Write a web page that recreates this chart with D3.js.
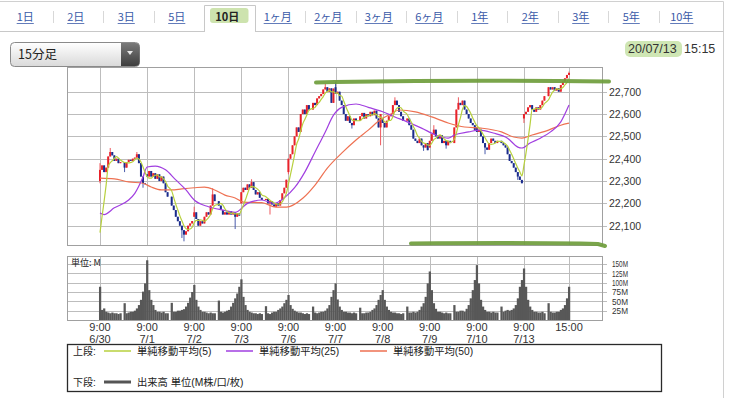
<!DOCTYPE html>
<html><head><meta charset="utf-8">
<script src="https://cdn.jsdelivr.net/npm/d3@7"></script>
<style>
body{margin:0;background:#fff;}
svg{display:block;}
text{font-family:"Liberation Sans",Arial,"Noto Sans CJK JP",sans-serif;}
.jp{font-family:"Noto Sans CJK JP","Liberation Sans",sans-serif;}
</style></head><body>
<svg id="c" width="732" height="398"></svg>
<script>
// ---------------- DATA ----------------
const tabs = ["1日","2日","3日","5日","10日","1ヶ月","2ヶ月","3ヶ月","6ヶ月","1年","2年","3年","5年","10年"];
const selectedTab = "10日";
const periodLabel = "15分足";
const stampDate = "20/07/13";
const stampTime = "15:15";
const dayLabels = ["6/30","7/1","7/2","7/3","7/6","7/7","7/8","7/9","7/10","7/13"];
const openTimeLabel = "9:00";
const closeTimeLabel = "15:00";
const priceTicks = [22100,22200,22300,22400,22500,22600,22700];
const volTicks = [25,50,75,100,125,150];
const priorCloses = [22010,22000,21990,21995];
const dayOpens = [22300,22330,22140,22200,22340,22720,22580,22450,22540,22580];
const closes = [
 [22350,22370,22340,22360,22410,22430,22415,22390,22400,22380,22385, 22360,22385,22395,22390,22400,22405,22420,22380,22320,22290,22288],
 [22320,22345,22320,22335,22310,22330,22300,22320,22290,22250,22230, 22190,22170,22140,22120,22100,22080,22060,22075,22100,22110,22121],
 [22160,22130,22100,22120,22110,22140,22160,22150,22190,22240,22210, 22190,22170,22150,22160,22150,22165,22150,22160,22140,22155,22145],
 [22250,22270,22260,22285,22270,22295,22260,22240,22250,22225,22215, 22220,22200,22210,22195,22185,22200,22190,22215,22245,22270,22306],
 [22400,22420,22460,22500,22540,22520,22600,22620,22600,22640,22620, 22650,22640,22670,22680,22690,22710,22720,22700,22715,22650,22714],
 [22690,22700,22660,22640,22600,22570,22590,22560,22550,22580,22570, 22590,22605,22580,22600,22590,22610,22595,22615,22580,22540,22600],
 [22560,22540,22570,22590,22600,22640,22660,22640,22610,22590,22570, 22580,22550,22530,22490,22480,22470,22490,22460,22450,22470,22438],
 [22480,22510,22530,22500,22490,22505,22470,22480,22460,22480,22470, 22540,22620,22650,22640,22660,22620,22600,22580,22560,22550,22529],
 [22520,22530,22500,22470,22450,22440,22470,22490,22480,22470,22480, 22470,22460,22450,22420,22390,22380,22360,22340,22320,22305,22290],
 [22600,22610,22630,22640,22620,22610,22630,22620,22640,22660,22680, 22720,22710,22720,22705,22715,22700,22730,22745,22760,22775,22784]
];
// [bar index, high, low] for visible wicks
const wicks = [
 [0,22380,22290],[5,22448,null],[11,null,22340],[17,22430,null],[20,null,22270],
 [39,null,22030],[38,null,22045],[44,22185,null],[53,22268,null],[63,null,22085],
 [71,22308,null],[79,null,22150],[88,null,22330],[105,22735,null],[110,22745,null],
 [118,null,22535],[131,null,22460],[138,22675,null],[151,null,22435],[156,22550,null],
 [162,null,22445],[167,22675,null],[180,null,22420],[195,null,22305],[198,null,22560],[219,22790,null]
];
const volumes = [
 [89,27,31,22,20,18,20,18,18,16,18, 45,18,20,22,22,25,31,40,54,76,98],
 [160,80,54,40,27,22,22,20,22,18,18, 46,22,22,25,25,27,29,36,46,60,75],
 [94,54,36,27,22,22,20,18,20,18,18, 52,22,20,22,25,27,36,46,58,71,89],
 [109,62,40,27,22,20,18,18,16,18,16, 37,18,16,20,22,22,27,31,36,45,54],
 [67,40,30,25,22,20,20,18,16,18,16, 36,20,18,20,22,22,25,31,40,62,80],
 [98,55,36,27,22,22,20,20,18,20,18, 33,18,18,20,20,22,27,31,40,54,67],
 [80,54,36,27,22,20,20,18,18,16,18, 36,20,20,22,20,22,27,36,45,62,98],
 [130,80,45,30,22,22,20,18,20,18,18, 40,22,22,25,25,22,30,40,58,80,107],
 [147,98,54,36,27,22,22,20,22,20,20, 36,22,25,27,25,27,31,40,58,89,107],
 [138,89,54,36,27,22,22,20,20,22,18, 45,22,20,20,22,22,27,31,40,58,89]
];
const ma25Bars = [0,2,7,13,16,20,22,26,31,35,40,44,51,57,63,69,76,81,86,91,96,100,105,109,113,120,125,132,138,143,150,157,163,165,172,177,184,190,195,197,201,206,210,215,219];
const ma25 = [22157,22150,22180,22215,22245,22318,22363,22367,22350,22305,22260,22215,22185,22170,22160,22200,22215,22200,22225,22270,22340,22430,22520,22595,22630,22645,22630,22610,22587,22565,22537,22506,22492,22506,22520,22528,22515,22492,22452,22448,22470,22492,22520,22565,22640];
const ma50Bars = [0,7,13,20,24,29,33,38,44,49,54,58,63,67,76,82,87,95,100,106,113,120,125,131,136,140,147,155,163,170,178,187,193,197,202,209,215,219];
const ma50 = [22313,22310,22296,22290,22273,22260,22260,22265,22270,22273,22260,22237,22224,22206,22203,22183,22183,22223,22282,22358,22425,22484,22528,22575,22600,22618,22610,22587,22560,22542,22537,22520,22497,22492,22506,22528,22550,22559];
const legendTop = ["単純移動平均(5)","単純移動平均(25)","単純移動平均(50)"];
const legendBottom = "出来高 単位(M株/口/枚)";

// ---------------- DRAW ----------------
const svg = d3.select("#c");
const BARS_PER_DAY = 22, SLOTS_PER_DAY = 23;
const slotOf = g => { const d = Math.floor(g / BARS_PER_DAY), b = g % BARS_PER_DAY; return d * SLOTS_PER_DAY + (b < 11 ? b : b + 1); };
const nDays = dayLabels.length;
const lastSlot = slotOf(nDays * BARS_PER_DAY - 1);
const x = d3.scaleLinear().domain([0, lastSlot]).range([100, 569]);
const step = x(1) - x(0);
const P = {l:67, r:602, t:67, b:245};
const V = {l:67, r:602, t:256, b:320};
const y = d3.scaleLinear().domain([22100, 22700]).range([225.7, 91.7]);
const yv = d3.scaleLinear().domain([0, 150]).range([V.b, 264]);
const px = v => Math.round(v) + 0.5;

// page chrome
svg.append("line").attr("x1",0).attr("x2",723.5).attr("y1",1.5).attr("y2",1.5).attr("stroke","#d0d0d0");
svg.append("line").attr("x1",723.5).attr("x2",723.5).attr("y1",1.5).attr("y2",398).attr("stroke","#d0d0d0");
const tabX = d3.scaleBand().domain(tabs).range([2, 709]);
const selX = tabX(selectedTab), bw = tabX.bandwidth();
svg.append("line").attr("x1",0).attr("x2",px(selX)).attr("y1",31.5).attr("y2",31.5).attr("stroke","#c8c8c8");
svg.append("line").attr("x1",px(selX+bw)).attr("x2",723.5).attr("y1",31.5).attr("y2",31.5).attr("stroke","#c8c8c8");
svg.append("path").attr("d",`M${px(selX)},32 V5.5 H${px(selX+bw)} V32`).attr("fill","#fff").attr("stroke","#c8c8c8");
svg.append("rect").attr("x",selX+6).attr("y",8).attr("width",bw-12).attr("height",15).attr("rx",3).attr("fill","#cde3ae");
tabs.forEach((t,i) => {
  const cx = tabX(t) + bw/2 - 2;
  const sel = t === selectedTab;
  const tx = svg.append("text").attr("class","jp").attr("x",cx).attr("y",21).attr("text-anchor","middle")
    .attr("font-size", 11).attr("font-weight", sel ? "bold" : "normal").attr("fill", sel ? "#222" : "#3b5aa8").text(t);
  if (!sel) {
    const w = tx.node().getComputedTextLength();
    svg.append("line").attr("x1",cx-w/2).attr("x2",cx+w/2).attr("y1",23.5).attr("y2",23.5).attr("stroke","#3b5aa8").attr("stroke-width",0.8);
  }
  const nxt = tabs[i+1];
  if (nxt && !sel && nxt !== selectedTab) {
    svg.append("line").attr("x1",px(tabX(t)+bw)).attr("x2",px(tabX(t)+bw)).attr("y1",11).attr("y2",23).attr("stroke","#d8d8d8");
  }
});

// dropdown
const defs = svg.append("defs");
const g1 = defs.append("linearGradient").attr("id","dd").attr("x1",0).attr("x2",0).attr("y1",0).attr("y2",1);
g1.append("stop").attr("offset","0%").attr("stop-color","#ffffff");
g1.append("stop").attr("offset","100%").attr("stop-color","#d9d9d9");
const g2 = defs.append("linearGradient").attr("id","db").attr("x1",0).attr("x2",0).attr("y1",0).attr("y2",1);
g2.append("stop").attr("offset","0%").attr("stop-color","#7a7a7a");
g2.append("stop").attr("offset","100%").attr("stop-color","#3e3e3e");
svg.append("rect").attr("x",10.5).attr("y",42.5).attr("width",129).attr("height",24).attr("rx",4).attr("fill","url(#dd)").attr("stroke","#8a8a8a");
svg.append("path").attr("d","M121,43 H135.5 a4,4 0 0 1 4,4 V62 a4,4 0 0 1 -4,4 H121 Z").attr("fill","url(#db)");
svg.append("path").attr("d","M127,51 L133,51 L130,55 Z").attr("fill","#e8e8e8");
svg.append("text").attr("class","jp").attr("x",18).attr("y",59).attr("font-size",12.5).attr("fill","#222").text(periodLabel);

// date stamp
svg.append("rect").attr("x",625).attr("y",41).attr("width",57).attr("height",16).attr("rx",5).attr("fill","#cfe6b4");
svg.append("text").attr("x",628).attr("y",53).attr("font-size",12.5).attr("fill","#333").text(stampDate);
svg.append("text").attr("x",684).attr("y",53).attr("font-size",12.5).attr("fill","#333").text(stampTime);

// ---- price panel ----
const gridC = "#bdbdbd";
const daySlots = d3.range(nDays).map(d => d * SLOTS_PER_DAY).concat([lastSlot]);
const pg = svg.append("g");
priceTicks.forEach(t => {
  pg.append("line").attr("x1",P.l).attr("x2",P.r+5).attr("y1",px(y(t))).attr("y2",px(y(t))).attr("stroke",gridC);
});
daySlots.forEach(s => {
  pg.append("line").attr("x1",px(x(s))).attr("x2",px(x(s))).attr("y1",P.t).attr("y2",P.b).attr("stroke",gridC);
});
pg.append("rect").attr("x",P.l+0.5).attr("y",P.t+0.5).attr("width",P.r-P.l).attr("height",P.b-P.t).attr("fill","none").attr("stroke","#a0a0a0");
const fmt = d3.format(",");
priceTicks.forEach(t => {
  pg.append("text").attr("x",609).attr("y",y(t)+3.8).attr("font-size",10.5).attr("fill","#333").text(fmt(t));
});

// candles
const flatC = closes.flat();
const wickMap = new Map(wicks.map(w => [w[0], w]));
const bars = flatC.map((c,g) => {
  const d = Math.floor(g / BARS_PER_DAY), b = g % BARS_PER_DAY;
  const o = b === 0 ? dayOpens[d] : flatC[g-1];
  const w = wickMap.get(g);
  let hi = Math.max(o,c), lo = Math.min(o,c);
  if (w) { if (w[1] != null) hi = Math.max(hi, w[1]); if (w[2] != null) lo = Math.min(lo, w[2]); }
  return {g, o, c, hi, lo, up: c >= o};
});
const cg = svg.append("g");
bars.forEach(k => {
  const cx = x(slotOf(k.g));
  cg.append("line").attr("x1",cx).attr("x2",cx).attr("y1",y(k.hi)).attr("y2",y(k.lo))
    .attr("stroke", k.up ? "#ee5a5f" : "#4a5cac").attr("stroke-width",1);
  const top = y(Math.max(k.o,k.c)), bot = y(Math.min(k.o,k.c));
  cg.append("rect").attr("x",cx-1).attr("width",2).attr("y",top).attr("height",Math.max(1,bot-top))
    .attr("fill", k.up ? "#e8222a" : "#1b2c8c");
});

// moving averages
const allC = priorCloses.concat(flatC);
const ma5 = flatC.map((c,g) => d3.mean(allC.slice(g, g+5)));
const line = d3.line().curve(d3.curveMonotoneX);
const drawLine = (pts, color) => svg.append("path").attr("d", line(pts)).attr("fill","none").attr("stroke",color).attr("stroke-width",1.2);
drawLine(ma50.map((v,i) => [x(slotOf(ma50Bars[i])), y(v)]), "#ee7152");
drawLine(ma25.map((v,i) => [x(slotOf(ma25Bars[i])), y(v)]), "#a13fe0");
drawLine(ma5.map((v,g) => [x(slotOf(g)), y(v)]), "#b7d03e");

// annotation highlights
const ann = svg.append("g").attr("stroke","#6f9e3c").attr("stroke-width",4).attr("stroke-linecap","round").attr("fill","none").attr("opacity",0.92);
ann.append("path").attr("d","M316,82.5 C400,80.5 520,80.5 609,81.5");
ann.append("path").attr("d","M411,243.5 C480,243 560,243 598,244 L605,246");

// ---- volume panel ----
const vg = svg.append("g");
volTicks.forEach(t => {
  vg.append("line").attr("x1",V.l).attr("x2",V.r+5).attr("y1",px(yv(t))).attr("y2",px(yv(t))).attr("stroke",gridC);
});
daySlots.forEach(s => {
  vg.append("line").attr("x1",px(x(s))).attr("x2",px(x(s))).attr("y1",V.t).attr("y2",V.b).attr("stroke",gridC);
});
volumes.flat().forEach((v,g) => {
  const cx = x(slotOf(g));
  vg.append("rect").attr("x",cx-step/2).attr("width",step+0.2).attr("y",yv(v)).attr("height",V.b-yv(v)).attr("fill","#585858");
});
vg.append("rect").attr("x",V.l+0.5).attr("y",V.t+0.5).attr("width",V.r-V.l).attr("height",V.b-V.t).attr("fill","none").attr("stroke","#a0a0a0");
volTicks.forEach(t => {
  vg.append("text").attr("x",612).attr("y",yv(t)+3.2).attr("font-size",8.2).attr("fill","#333")
    .attr("textLength",16).attr("lengthAdjust","spacingAndGlyphs").text(t + "M");
});
vg.append("text").attr("class","jp").attr("x",71).attr("y",266).attr("font-size",9).attr("fill","#222").text("単位: M");

// x labels
dayLabels.forEach((lab,d) => {
  const cx = x(d * SLOTS_PER_DAY);
  svg.append("text").attr("x",cx).attr("y",331).attr("text-anchor","middle").attr("font-size",11).attr("fill","#333").text(openTimeLabel);
  svg.append("text").attr("x",cx).attr("y",343).attr("text-anchor","middle").attr("font-size",11).attr("fill","#333").text(lab);
});
svg.append("text").attr("x",x(lastSlot)).attr("y",331).attr("text-anchor","middle").attr("font-size",11).attr("fill","#333").text(closeTimeLabel);

// ---- legend ----
svg.append("rect").attr("x",67.5).attr("y",344.5).attr("width",594).attr("height",47).attr("fill","#fff").attr("stroke","#2a2a2a").attr("stroke-width",1.3);
const lg = svg.append("g").attr("class","jp");
lg.append("text").attr("x",73).attr("y",355).attr("font-size",10).attr("fill","#222").text("上段:");
const legColors = ["#b7d03e","#a13fe0","#ee7152"];
const legLineX = [104,226,360];
legendTop.forEach((t,i) => {
  lg.append("line").attr("x1",legLineX[i]).attr("x2",legLineX[i]+27).attr("y1",351).attr("y2",351).attr("stroke",legColors[i]).attr("stroke-width",1.5);
  lg.append("text").attr("x",legLineX[i]+33).attr("y",355).attr("font-size",10.3).attr("fill","#222").text(t);
});
lg.append("text").attr("x",73).attr("y",386).attr("font-size",10).attr("fill","#222").text("下段:");
lg.append("line").attr("x1",104).attr("x2",131).attr("y1",382).attr("y2",382).attr("stroke","#555").attr("stroke-width",3);
lg.append("text").attr("x",137).attr("y",386).attr("font-size",10.3).attr("fill","#222").text(legendBottom);
</script>
</body></html>
